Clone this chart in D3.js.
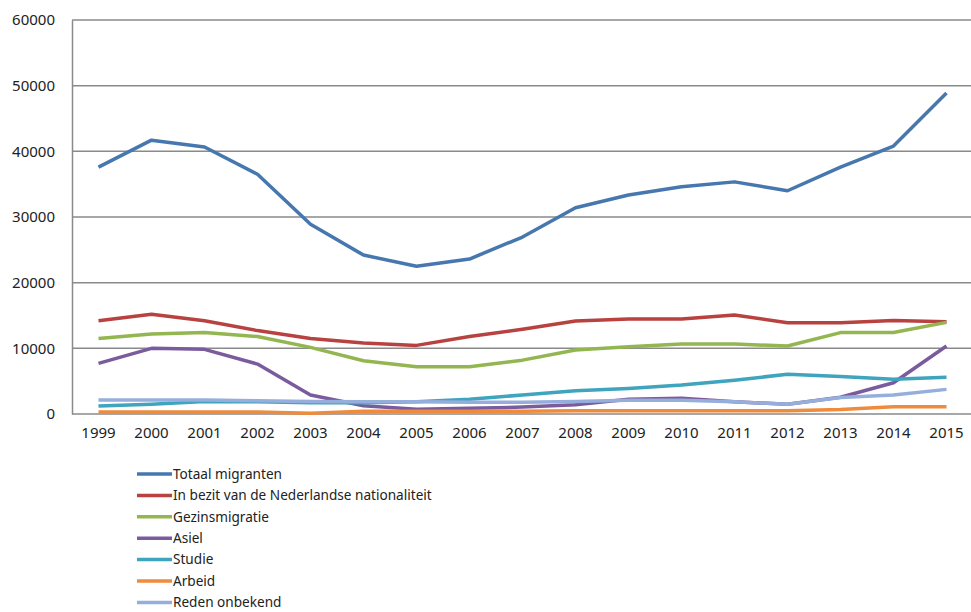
<!DOCTYPE html>
<html>
<head>
<meta charset="utf-8">
<script src="https://cdn.jsdelivr.net/npm/d3@7"></script>
<style>
  body { margin: 0; background: #fff; }
  text { font-family: "Noto Sans", sans-serif; fill: #222; }
</style>
</head>
<body>
<div id="chart"></div>
<script>
// years on the category axis
var years = ["1999","2000","2001","2002","2003","2004","2005","2006","2007","2008","2009","2010","2011","2012","2013","2014","2015"];
var yTicks = [0, 10000, 20000, 30000, 40000, 50000, 60000];

// series values
var totaal     = [37600, 41700, 40650, 36500, 28900, 24200, 22500, 23600, 26950, 31400, 33350, 34600, 35350, 34000, 37600, 40800, 48900];
var nederlands = [14200, 15200, 14200, 12700, 11500, 10800, 10450, 11800, 12900, 14150, 14450, 14450, 15080, 13900, 13900, 14250, 14050];
var gezins     = [11500, 12200, 12400, 11800, 10150, 8100, 7200, 7200, 8200, 9750, 10250, 10650, 10650, 10350, 12400, 12400, 13950];
var asiel      = [7700, 10000, 9850, 7600, 2900, 1270, 720, 870, 1050, 1400, 2250, 2400, 1850, 1500, 2550, 4750, 10350];
var studie     = [1200, 1500, 1900, 1850, 1700, 1700, 1850, 2250, 2900, 3550, 3900, 4400, 5150, 6050, 5700, 5300, 5600];
var arbeid     = [300, 300, 300, 300, 100, 400, 400, 400, 400, 500, 500, 500, 500, 500, 700, 1100, 1100];
var onbekend   = [2150, 2150, 2150, 2000, 1900, 1850, 1850, 1800, 1800, 1900, 2100, 2100, 1850, 1500, 2500, 2900, 3750];

var seriesNames = ["Totaal migranten", "In bezit van de Nederlandse nationaliteit", "Gezinsmigratie", "Asiel", "Studie", "Arbeid", "Reden onbekend"];
var seriesColors = ["#4677AE", "#B8423F", "#93B651", "#7A5C9E", "#3FA4BD", "#EE8B3C", "#95AEDB"];
var seriesValues = [totaal, nederlands, gezins, asiel, studie, arbeid, onbekend];

var width = 971, height = 612;
var margin = {top: 20, left: 72, right: 0};
var plotBottom = 414;

var svg = d3.select("#chart").append("svg")
    .attr("width", width)
    .attr("height", height);

var x = d3.scaleBand()
    .domain(years)
    .range([margin.left, margin.left + 53 * years.length]);

var y = d3.scaleLinear()
    .domain([0, 60000])
    .range([plotBottom, margin.top]);

// horizontal gridlines
svg.append("g")
  .selectAll("line")
  .data(yTicks)
  .enter().append("line")
    .attr("x1", margin.left)
    .attr("x2", width)
    .attr("y1", function(d) { return y(d); })
    .attr("y2", function(d) { return y(d); })
    .style("stroke", "#8a8a8a")
    .style("stroke-width", 1.5);

// y axis
var yAxis = svg.append("g")
    .attr("transform", "translate(" + margin.left + ",0)")
    .call(d3.axisLeft(y).tickValues(yTicks).tickSize(0).tickPadding(17).tickFormat(d3.format("d")));
yAxis.select(".domain").style("stroke", "#8a8a8a").style("stroke-width", 1.5);
yAxis.selectAll("text").style("font-size", "15px").style("fill", "#222");

// x axis
var xAxis = svg.append("g")
    .attr("transform", "translate(0," + plotBottom + ")")
    .call(d3.axisBottom(x).tickSize(0).tickPadding(13));
xAxis.select(".domain").remove();
xAxis.selectAll("text").style("font-size", "15px").style("fill", "#222");

// lines
var line = d3.line()
    .x(function(d, i) { return x(years[i]) + x.bandwidth() / 2; })
    .y(function(d) { return y(d); });

svg.append("g")
  .selectAll("path")
  .data(seriesValues)
  .enter().append("path")
    .attr("d", line)
    .style("fill", "none")
    .style("stroke", function(d, i) { return seriesColors[i]; })
    .style("stroke-width", 3.5)
    .style("stroke-linejoin", "round");

// legend
var legend = svg.append("g")
    .attr("transform", "translate(137,474)");

var item = legend.selectAll("g")
    .data(seriesNames)
  .enter().append("g")
    .attr("transform", function(d, i) { return "translate(0," + (i * 21.4) + ")"; });

item.append("line")
    .attr("x1", 0).attr("x2", 35)
    .style("stroke", function(d, i) { return seriesColors[i]; })
    .style("stroke-width", 3.5);

item.append("text")
    .attr("x", 36)
    .attr("dy", "0.35em")
    .style("font-size", "13.6px")
    .text(function(d) { return d; });
</script>
</body>
</html>
